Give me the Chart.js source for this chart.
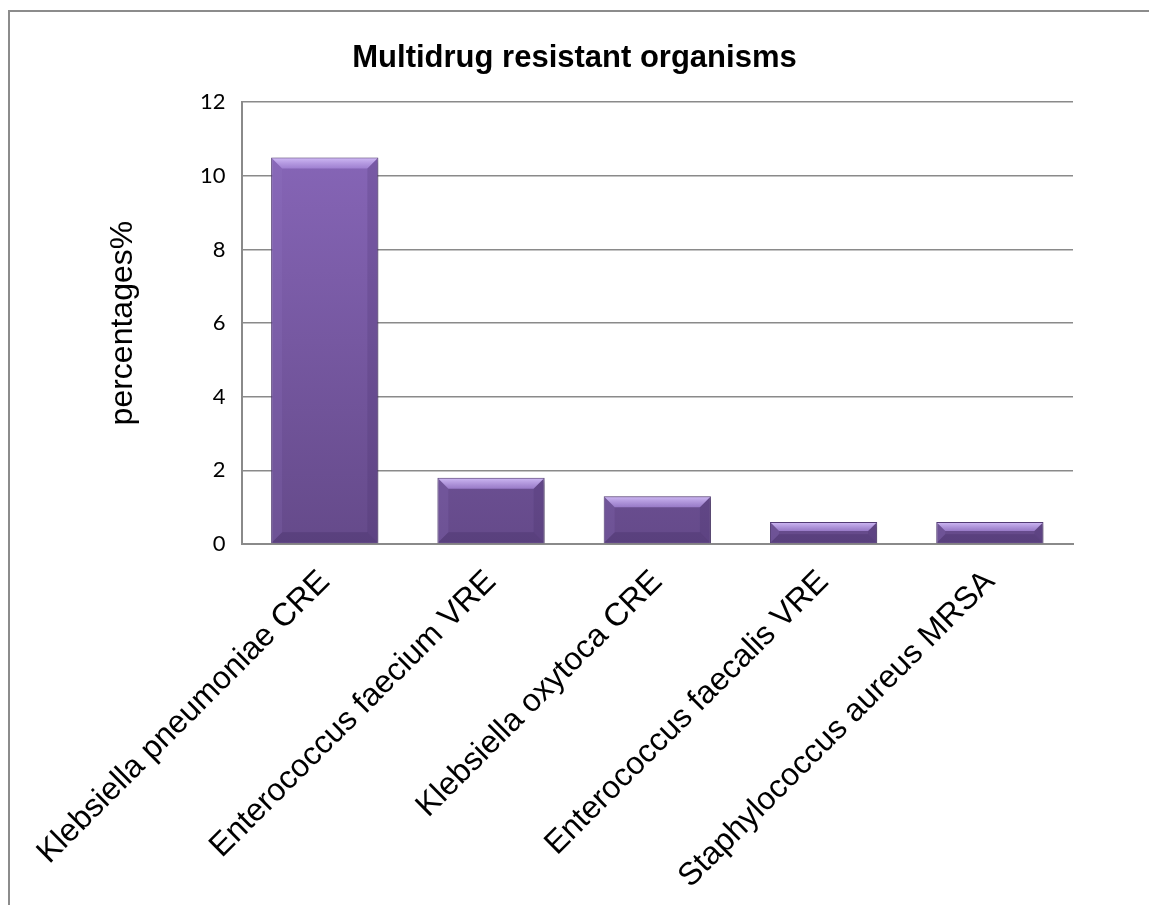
<!DOCTYPE html>
<html>
<head>
<meta charset="utf-8">
<title>Multidrug resistant organisms</title>
<script src="https://cdn.jsdelivr.net/npm/chart.js@4/dist/chart.umd.min.js"></script>
<style>
  html, body { margin: 0; padding: 0; background: #ffffff; overflow: hidden; }
  #frame {
    position: absolute; left: 8px; top: 10px;
    width: 2000px; height: 2000px;
    border: 2px solid #8c8c8c;
  }
  #chart { position: absolute; left: 0; top: 0; }
</style>
</head>
<body>
<div id="frame"></div>
<canvas id="chart" width="1149" height="905"></canvas>
<script>
// Organisms and their share (%)
const organisms = [
  'Klebsiella pneumoniae CRE',
  'Enterococcus faecium VRE',
  'Klebsiella oxytoca CRE',
  'Enterococcus faecalis VRE',
  'Staphylococcus aureus MRSA'
];
const percentages = [10.5, 1.8, 1.3, 0.6, 0.6];
const yTicks = [0, 2, 4, 6, 8, 10, 12];

const chartTitle = 'Multidrug resistant organisms';
const yAxisTitle = 'percentages%';

const GRID = '#8a8a8a';
const ARIAL = '"Liberation Sans", Arial, sans-serif';

// Vertical purple gradient for the bar body
function barGradient(context) {
  const chart = context.chart;
  if (!chart.chartArea) return '#7a5aa6';
  const y = chart.scales.y;
  const g = chart.ctx.createLinearGradient(0, y.getPixelForValue(11), 0, y.getPixelForValue(0));
  g.addColorStop(0, '#8766b8');
  g.addColorStop(1, '#654a8a');
  return g;
}

function quad(ctx, pts, fill) {
  ctx.fillStyle = fill;
  ctx.beginPath();
  ctx.moveTo(pts[0][0], pts[0][1]);
  for (let i = 1; i < pts.length; i++) ctx.lineTo(pts[i][0], pts[i][1]);
  ctx.closePath();
  ctx.fill();
}

// Soft drop shadow under the bars plus a bevelled rim on each bar
const bevelPlugin = {
  id: 'bevel',
  beforeDatasetDraw(chart) {
    const ctx = chart.ctx;
    ctx.save();
    ctx.shadowColor = 'rgba(0,0,0,0.3)';
    ctx.shadowBlur = 5;
    ctx.shadowOffsetX = 2;
    ctx.shadowOffsetY = 2;
  },
  afterDatasetDraw(chart) {
    const ctx = chart.ctx;
    ctx.restore();
    const meta = chart.getDatasetMeta(0);
    meta.data.forEach(bar => {
      const { x, y, base, width } = bar.getProps(['x', 'y', 'base', 'width'], true);
      const l = x - width / 2 + 1, r = x + width / 2 - 1;
      const t = y + 1, bt = base - 1;
      const h = bt - t;
      const b = Math.min(10, h / 2.4);
      ctx.save();
      const tg = ctx.createLinearGradient(0, t, 0, t + b);
      tg.addColorStop(0, 'rgba(208,186,246,0.95)');
      tg.addColorStop(1, 'rgba(168,138,218,0.75)');
      quad(ctx, [[l, t], [r, t], [r - b, t + b], [l + b, t + b]], tg);
      quad(ctx, [[l, t], [l + b, t + b], [l + b, bt - b], [l, bt]], 'rgba(150,122,200,0.18)');
      quad(ctx, [[r, t], [r - b, t + b], [r - b, bt - b], [r, bt]], 'rgba(60,40,95,0.18)');
      quad(ctx, [[l, bt], [l + b, bt - b], [r - b, bt - b], [r, bt]], 'rgba(55,36,88,0.25)');
      ctx.restore();
    });
  }
};

new Chart(document.getElementById('chart'), {
  type: 'bar',
  data: {
    labels: organisms,
    datasets: [{
      data: percentages,
      backgroundColor: barGradient,
      borderColor: '#553d78',
      borderWidth: 1,
      barPercentage: 0.645,
      categoryPercentage: 1.0
    }]
  },
  options: {
    responsive: false,
    animation: false,
    devicePixelRatio: 1,
    layout: { padding: 0 },
    plugins: {
      legend: { display: false },
      tooltip: { enabled: false },
      title: {
        display: true,
        text: chartTitle,
        color: '#000000',
        font: { family: ARIAL, size: 31, weight: 'bold', lineHeight: 1.2 },
        padding: { top: 40, bottom: 25 }
      }
    },
    scales: {
      x: {
        grid: { display: false, drawTicks: false },
        border: { display: true, color: GRID, width: 2 },
        ticks: {
          color: '#000000',
          font: { family: ARIAL, size: 32 },
          minRotation: 45,
          maxRotation: 45,
          autoSkip: false,
          padding: 19
        },
        afterFit(scale) { scale.height = 905 - 544; }
      },
      y: {
        min: 0,
        max: 12,
        afterBuildTicks(scale) { scale.ticks = yTicks.map(v => ({ value: v })); },
        grid: { color: GRID, lineWidth: 1.5, drawTicks: false },
        border: { display: true, color: GRID, width: 2 },
        ticks: {
          color: '#000000',
          font: { family: 'Lato, "Open Sans", sans-serif', size: 22 },
          padding: 16
        },
        title: {
          display: true,
          text: yAxisTitle,
          color: '#000000',
          font: { family: ARIAL, size: 32, lineHeight: 1.2 },
          padding: { top: 102, bottom: 0 }
        },
        afterFit(scale) { scale.width = 240; }
      },
      // empty right-hand margin so the title centres on the whole figure
      margin: {
        type: 'linear',
        position: 'right',
        display: true,
        grid: { display: false, drawTicks: false },
        border: { display: false },
        ticks: { display: false },
        afterFit(scale) { scale.width = 1149 - 1073; }
      }
    }
  },
  plugins: [bevelPlugin]
});
</script>
</body>
</html>
